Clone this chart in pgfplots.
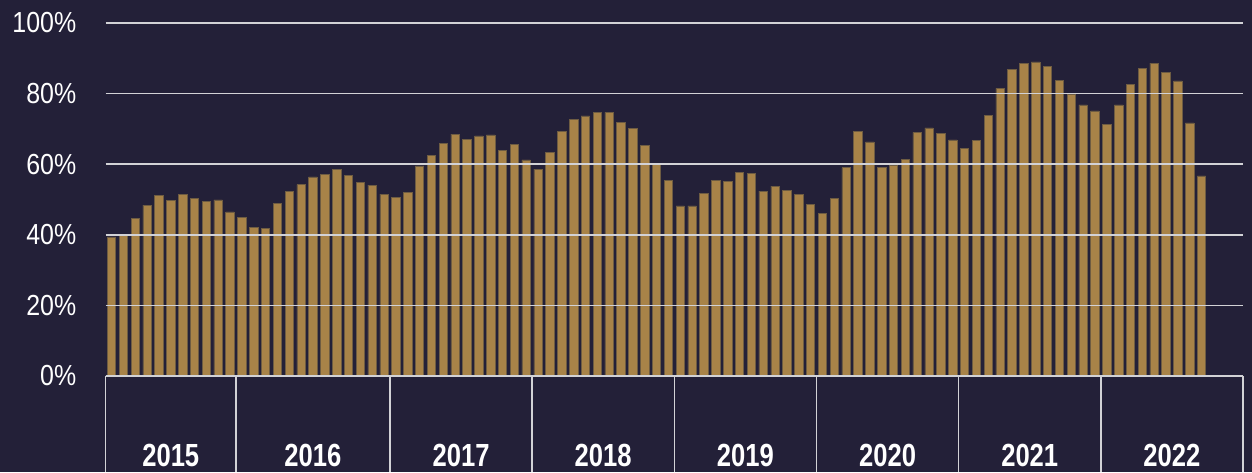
\documentclass[border=0pt]{standalone}
\usepackage{pgfplots}
\pgfplotsset{compat=1.18}
\usepackage{fontspec}
\setmainfont{Liberation Sans}[FakeStretch=0.86]
\newfontfamily\yearfont{Liberation Sans}[FakeStretch=0.80]
\definecolor{bg}{RGB}{35,32,56}
\definecolor{barc}{RGB}{168,131,72}
\definecolor{bard}{RGB}{110,92,66}
\definecolor{gridc}{RGB}{210,210,214}
\begin{document}
\begin{tikzpicture}
\fill[bg] (-52.8pt,-48pt) rectangle (573.2pt,188pt);
\begin{axis}[
  scale only axis,
  width=568.7pt, height=176.5pt,
  xmin=-0.5, xmax=95.5, ymin=0, ymax=100,
  enlargelimits=false,
  axis on top,
  axis x line*=bottom, axis y line*=left,
  y axis line style={draw=none},
  x axis line style={draw=gridc, line width=0.8pt},
  ytick={0,20,40,60,80,100},
  yticklabel={\pgfmathprintnumber{\tick}\%},
  /pgf/number format/assume math mode=true,
  ymajorgrids,
  major grid style={draw=gridc, line width=0.8pt},
  ytick style={draw=none},
  y tick label style={font=\fontsize{14.5}{17}\selectfont, text=white, anchor=east, inner sep=0pt, xshift=-14.5pt},
  xtick={5,17,29.5,41.5,53.5,65.5,77.5,89.5},
  xticklabels={2015,2016,2017,2018,2019,2020,2021,2022},
  x tick label style={font=\yearfont\bfseries\fontsize{16}{19}\selectfont, text=white, anchor=base, inner sep=0pt, yshift=-45pt},
  minor xtick={-0.5,10.5,23.5,35.5,47.5,59.5,71.5,83.5,95.5},
  xtick align=outside,
  major tick length=0pt,
  minor tick length=48pt,
  x tick style={draw=gridc, line width=0.8pt},
]
\addplot[ybar, bar width=0.71, fill=barc, draw=bard, line width=0.3pt] coordinates {
(0,39.4) (1,39.9) (2,44.6) (3,48.4) (4,51.2) (5,49.8) (6,51.5) (7,50.4) (8,49.4) (9,49.9)
(10,46.5) (11,44.9) (12,42.0) (13,41.8) (14,48.9) (15,52.2) (16,54.2) (17,56.4) (18,57.1) (19,58.5)
(20,56.9) (21,54.9) (22,54.1) (23,51.5) (24,50.5) (25,51.9) (26,59.5) (27,62.5) (28,66.0) (29,68.5)
(30,67.1) (31,68.0) (32,68.3) (33,64.0) (34,65.5) (35,61.2) (36,58.6) (37,63.4) (38,69.4) (39,72.8)
(40,73.7) (41,74.7) (42,74.7) (43,71.8) (44,70.1) (45,65.4) (46,60.1) (47,55.3) (48,48.2) (49,48.2)
(50,51.8) (51,55.5) (52,55.1) (53,57.6) (54,57.5) (55,52.4) (56,53.8) (57,52.6) (58,51.4) (59,48.6)
(60,46.0) (61,50.4) (62,59.0) (63,69.4) (64,66.3) (65,59.1) (66,59.6) (67,61.3) (68,69.0) (69,70.3)
(70,68.8) (71,66.9) (72,64.4) (73,66.8) (74,73.9) (75,81.5) (76,86.9) (77,88.6) (78,89.0) (79,87.7)
(80,83.8) (81,79.9) (82,76.8) (83,75.1) (84,71.2) (85,76.8) (86,82.7) (87,87.2) (88,88.6) (89,86.1)
(90,83.6) (91,71.7) (92,56.7)
};
\end{axis}
\pgfresetboundingbox
\path[use as bounding box] (-52.8pt,-48pt) rectangle (573.2pt,188pt);
\end{tikzpicture}
\end{document}
